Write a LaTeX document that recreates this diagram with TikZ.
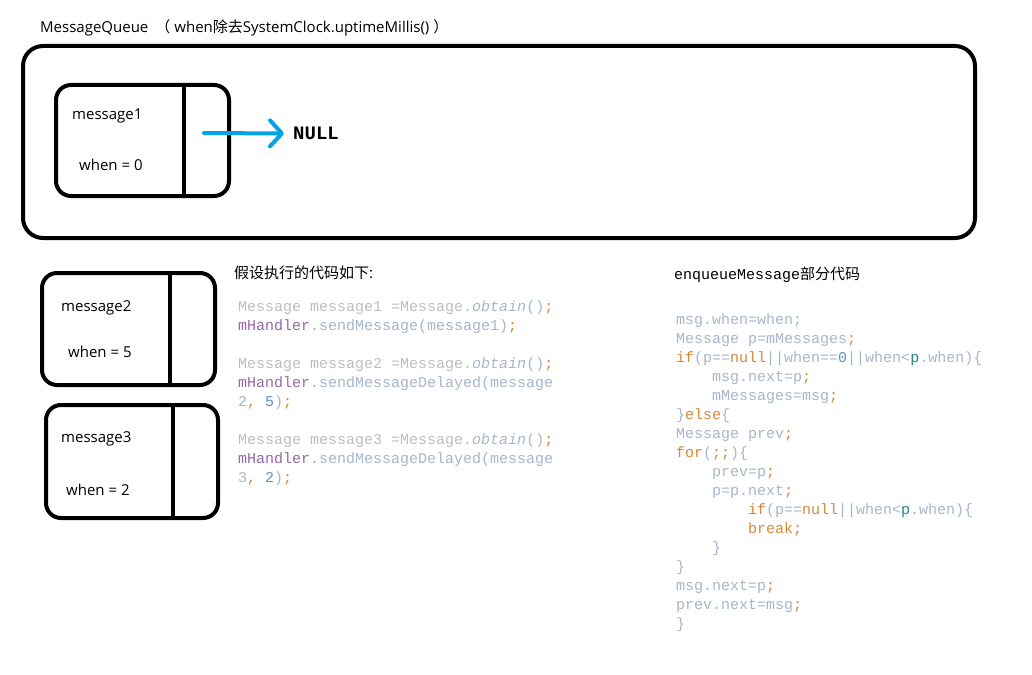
\documentclass[tikz,border=0pt]{standalone}
\usepackage{fontspec}
\usetikzlibrary{arrows.meta}
\setmainfont{Open Sans}
\setmonofont{Liberation Mono}
\newfontfamily\cjk{Noto Sans CJK SC}
\newfontfamily\nulltxtfont{Liberation Mono}
\definecolor{cg}{RGB}{168,182,202}
\definecolor{cl}{RGB}{190,190,190}
\definecolor{co}{RGB}{214,136,56}
\definecolor{cp}{RGB}{150,104,170}
\definecolor{cb}{RGB}{90,148,200}
\definecolor{ct}{RGB}{40,130,140}
\definecolor{paintblue}{HTML}{00A2E8}
\newcommand{\G}[1]{\textcolor{cg}{#1}}
\newcommand{\Lg}[1]{\textcolor{cl}{#1}}
\newcommand{\Or}[1]{\textcolor{co}{#1}}
\newcommand{\Pu}[1]{\textcolor{cp}{#1}}
\newcommand{\Bl}[1]{\textcolor{cb}{#1}}
\newcommand{\Te}[1]{\textcolor{ct}{#1}}
\tikzset{
  msgbox/.style={draw=black, line width=4, rounded corners=15, inner sep=0},
  qbox/.style={draw=black, line width=4, rounded corners=20, inner sep=0},
  divider/.style={line width=4},
  lbl/.style={anchor=base west, inner sep=0, font=\fontsize{15}{18}\selectfont},
  code/.style={anchor=base west, inner sep=0, font=\fontsize{15}{19}\ttfamily},
  hdr/.style={anchor=base west, inner sep=0, font=\fontsize{15}{18}\selectfont},
}
\begin{document}
\begin{tikzpicture}[x=1pt,y=-1pt]
\useasboundingbox[fill=white] (0,0) rectangle (1032,674);

% title
\node[lbl] (title) at (40,33) {MessageQueue\hspace{7pt}{\cjk （}\hspace{4pt}when{\cjk 除去}SystemClock.uptimeMillis()\hspace{4pt}{\cjk ）}};

% queue box
\node[qbox, minimum width=952, minimum height=192] (queue) at (499,142) {};

% message1
\node[msgbox, minimum width=173, minimum height=111] (m1) at (142.5,140.5) {};
\draw[divider] (184,85) -- (184,196);
\node[lbl] (m1name) at (72,119) {message1};
\node[lbl] (m1when) at (79,170) {when = 0};
\coordinate (m1next) at (204,133);
\node[anchor=west, inner sep=0, font=\fontsize{19}{20}\nulltxtfont\bfseries] (null) at (293,133.5) {NULL};
\draw[paintblue, line width=4, line cap=round,
  -{Straight Barb[length=12, width=26, line cap=round, line join=round]}] (m1next) -- ([xshift=-9pt]null.west);

% message2
\node[msgbox, minimum width=173, minimum height=112] (m2) at (128.5,329) {};
\draw[divider] (170,273) -- (170,385);
\node[lbl] (m2name) at (61,311) {message2};
\node[lbl] (m2when) at (68,357) {when = 5};

% message3
\node[msgbox, minimum width=172, minimum height=113] (m3) at (132,461.5) {};
\draw[divider] (173,405) -- (173,518);
\node[lbl] (m3name) at (61,442) {message3};
\node[lbl] (m3when) at (66,495) {when = 2};

% code block 1
\node[hdr] (h1) at (234,278) {{\cjk 假设执行的代码如下}:};
\node[code] (c1) at (238,311.5) {\Lg{Message message1 =Message.}\G{\itshape obtain}\G{()}\Or{;}};
\node[code] (c2) at (238,330.5) {\Pu{mHandler}\G{.sendMessage(message1)}\Or{;}};
\node[code] (c3) at (238,368.5) {\Lg{Message message2 =Message.}\G{\itshape obtain}\G{()}\Or{;}};
\node[code] (c4) at (238,387.5) {\Pu{mHandler}\G{.sendMessageDelayed(message}};
\node[code] (c5) at (238,406.5) {\G{2}\Or{,} \Bl{5}\G{)}\Or{;}};
\node[code] (c6) at (238,444.5) {\Lg{Message message3 =Message.}\G{\itshape obtain}\G{()}\Or{;}};
\node[code] (c7) at (238,463.5) {\Pu{mHandler}\G{.sendMessageDelayed(message}};
\node[code] (c8) at (238,482.5) {\G{3}\Or{,} \Bl{2}\G{)}\Or{;}};

% code block 2
\node[hdr, font=\fontsize{15}{18}\ttfamily] (h2) at (674,279) {enqueueMessage{\cjk 部分代码}};
\node[code] (e1) at (676,324.5) {\G{msg.when=when;}};
\node[code] (e2) at (676,343.5) {\G{Message p=mMessages}\Or{;}};
\node[code] (e3) at (676,362.5) {\Or{if}\G{(p==}\Or{null}\G{||when==}\Bl{0}\G{||when<}\Te{p}\G{.when)\{}};
\node[code] (e4) at (712,381.5) {\G{msg.next=p}\Or{;}};
\node[code] (e5) at (712,400.5) {\G{mMessages=msg}\Or{;}};
\node[code] (e6) at (676,419.5) {\G{\}}\Or{else}\G{\{}};
\node[code] (e7) at (676,438.5) {\G{Message prev}\Or{;}};
\node[code] (e8) at (676,457.5) {\Or{for}\G{(}\Or{;;}\G{)\{}};
\node[code] (e9) at (712,476.5) {\G{prev=p}\Or{;}};
\node[code] (e10) at (712,495.5) {\G{p=p.next}\Or{;}};
\node[code] (e11) at (748,514.5) {\Or{if}\G{(p==}\Or{null}\G{||when<}\Te{p}\G{.when)\{}};
\node[code] (e12) at (748,533.5) {\Or{break;}};
\node[code] (e13) at (712,552.5) {\G{\}}};
\node[code] (e14) at (676,571.5) {\G{\}}};
\node[code] (e15) at (676,590.5) {\G{msg.next=p}\Or{;}};
\node[code] (e16) at (676,609.5) {\G{prev.next=msg}\Or{;}};
\node[code] (e17) at (676,628.5) {\G{\}}};
\end{tikzpicture}
\end{document}
